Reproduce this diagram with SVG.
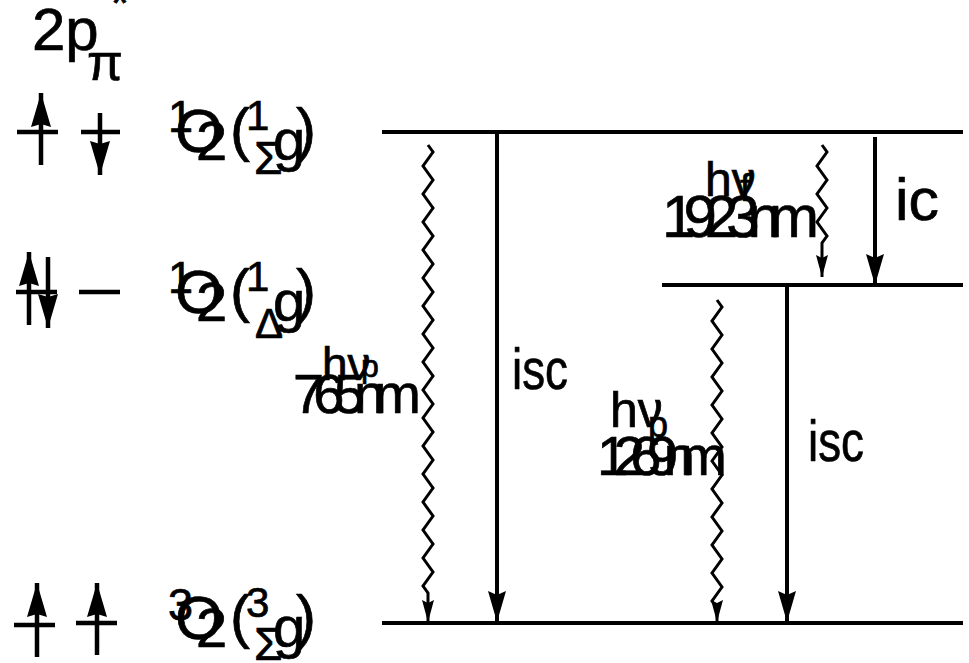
<svg xmlns="http://www.w3.org/2000/svg" width="969" height="663" viewBox="0 0 969 663">
<style>
text{font-family:"Liberation Sans",Arial,sans-serif;fill:#000;stroke:#000;stroke-width:0.7}
.lvl{stroke:#000;stroke-width:4;fill:none}
.arr{stroke:#000;stroke-width:4;fill:none}
.wav{stroke:#000;stroke-width:3;fill:none;stroke-linejoin:miter}
.orb{stroke:#000;stroke-width:4.5;fill:none}
</style>
<defs>
<marker id="big" markerUnits="userSpaceOnUse" markerWidth="32" markerHeight="20" refX="31" refY="9" orient="auto"><path d="M0,0 L31,9 L0,18 L4,9 z" fill="#000"/></marker>
<marker id="small" markerUnits="userSpaceOnUse" markerWidth="24" markerHeight="14" refX="22" refY="6" orient="auto"><path d="M0,0 L22,6 L0,12 L3,6 z" fill="#000"/></marker>
<marker id="orb" markerUnits="userSpaceOnUse" markerWidth="36" markerHeight="22" refX="34" refY="10" orient="auto"><path d="M0,0 L34,10 L0,20 L3,10 z" fill="#000"/></marker>
</defs>

<g id="title">
<text x="32" y="50" font-size="60">2p</text>
<text x="87" y="80" font-size="52">π</text>
<text x="111" y="19" font-size="46">*</text>
</g>

<g id="orbitals">
<line class="orb" x1="17" y1="132" x2="58" y2="132"/>
<line class="orb" x1="41" y1="165" x2="41" y2="93" marker-end="url(#orb)"/>
<line class="orb" x1="81" y1="132" x2="120" y2="132"/>
<line class="orb" x1="100" y1="113" x2="100" y2="175" marker-end="url(#orb)"/>

<line class="orb" x1="16" y1="292" x2="57" y2="292"/>
<line class="orb" x1="29" y1="325" x2="29" y2="252" marker-end="url(#orb)"/>
<line class="orb" x1="48" y1="257" x2="48" y2="328" marker-end="url(#orb)"/>
<line class="orb" x1="79" y1="292" x2="120" y2="292"/>

<line class="orb" x1="14" y1="625" x2="55" y2="625"/>
<line class="orb" x1="37" y1="657" x2="37" y2="583" marker-end="url(#orb)"/>
<line class="orb" x1="76" y1="623" x2="117" y2="623"/>
<line class="orb" x1="97" y1="655" x2="97" y2="583" marker-end="url(#orb)"/>
</g>

<g id="state-S">
<text font-size="62"><tspan x="168" y="132" font-size="45">1</tspan><tspan x="175" y="152">O</tspan><tspan x="196" y="160" font-size="56">2</tspan><tspan x="230" y="150" font-size="60">(</tspan><tspan x="246" y="130" font-size="42">1</tspan><tspan x="254" y="174" font-size="46">Σ</tspan><tspan x="273" y="160" font-size="58">g</tspan><tspan x="296" y="150" font-size="60">)</tspan></text>
</g>
<g id="state-D">
<text font-size="62"><tspan x="168" y="293" font-size="45">1</tspan><tspan x="175" y="313">O</tspan><tspan x="196" y="321" font-size="56">2</tspan><tspan x="230" y="311" font-size="60">(</tspan><tspan x="246" y="291" font-size="42">1</tspan><tspan x="255" y="338" font-size="42">Δ</tspan><tspan x="273" y="321" font-size="58">g</tspan><tspan x="296" y="311" font-size="60">)</tspan></text>
</g>
<g id="state-T">
<text font-size="62"><tspan x="168" y="620" font-size="45">3</tspan><tspan x="175" y="639">O</tspan><tspan x="196" y="647" font-size="56">2</tspan><tspan x="230" y="637" font-size="60">(</tspan><tspan x="246" y="617" font-size="42">3</tspan><tspan x="254" y="660" font-size="46">Σ</tspan><tspan x="273" y="647" font-size="58">g</tspan><tspan x="296" y="637" font-size="60">)</tspan></text>
</g>

<g id="levels">
<line class="lvl" x1="382" y1="132" x2="963" y2="132"/>
<line class="lvl" x1="662" y1="285" x2="963" y2="285"/>
<line class="lvl" x1="382" y1="623" x2="963" y2="623"/>
</g>

<g id="connectors">
<line class="arr" x1="497" y1="132" x2="497" y2="622" marker-end="url(#big)"/>
<line class="arr" x1="875" y1="137" x2="875" y2="285" marker-end="url(#big)"/>
<line class="arr" x1="787" y1="285" x2="787" y2="622" marker-end="url(#big)"/>
<path class="wav" d="M428,145 l5,7 l-10,14 l10,14 l-10,14 l10,14 l-10,14 l10,14 l-10,14 l10,14 l-10,14 l10,14 l-10,14 l10,14 l-10,14 l10,14 l-10,14 l10,14 l-10,14 l10,14 l-10,14 l10,14 l-10,14 l10,14 l-10,14 l10,14 l-10,14 l10,14 l-10,14 l10,14 l-10,14 l10,14 l-10,14 l5,7 L428,622" marker-end="url(#small)"/>
<path class="wav" d="M717,300 l5,7 l-10,14 l10,14 l-10,14 l10,14 l-10,14 l10,14 l-10,14 l10,14 l-10,14 l10,14 l-10,14 l10,14 l-10,14 l10,14 l-10,14 l10,14 l-10,14 l10,14 l-10,14 l10,14 l-10,14 l5,7 L717,622" marker-end="url(#small)"/>
<path class="wav" d="M822,145 l5,7 l-10,14 l10,14 l-10,14 l10,14 l-10,14 l10,14 l-5,7 L822,277" marker-end="url(#small)"/>
</g>

<g id="labels">
<text x="512" y="389" font-size="58" textLength="56" lengthAdjust="spacingAndGlyphs">isc</text>
<text x="808" y="461" font-size="58" textLength="56" lengthAdjust="spacingAndGlyphs">isc</text>
<text x="895" y="220" font-size="60" textLength="44" lengthAdjust="spacingAndGlyphs">ic</text>

<text font-size="46"><tspan x="322" y="380">hν</tspan><tspan x="361" y="377" font-size="32">p</tspan></text>
<text x="293" y="413" font-size="56" textLength="128" lengthAdjust="spacing">765nm</text>

<text font-size="50"><tspan x="610" y="427">hν</tspan><tspan x="648" y="437" font-size="36">p</tspan></text>
<text x="597" y="475" font-size="56" textLength="130" lengthAdjust="spacing">1269nm</text>

<text font-size="48"><tspan x="705" y="196">hν</tspan><tspan x="740" y="201" font-size="38">f</tspan></text>
<text x="662" y="237" font-size="60" textLength="157" lengthAdjust="spacing">1923nm</text>
</g>
</svg>
